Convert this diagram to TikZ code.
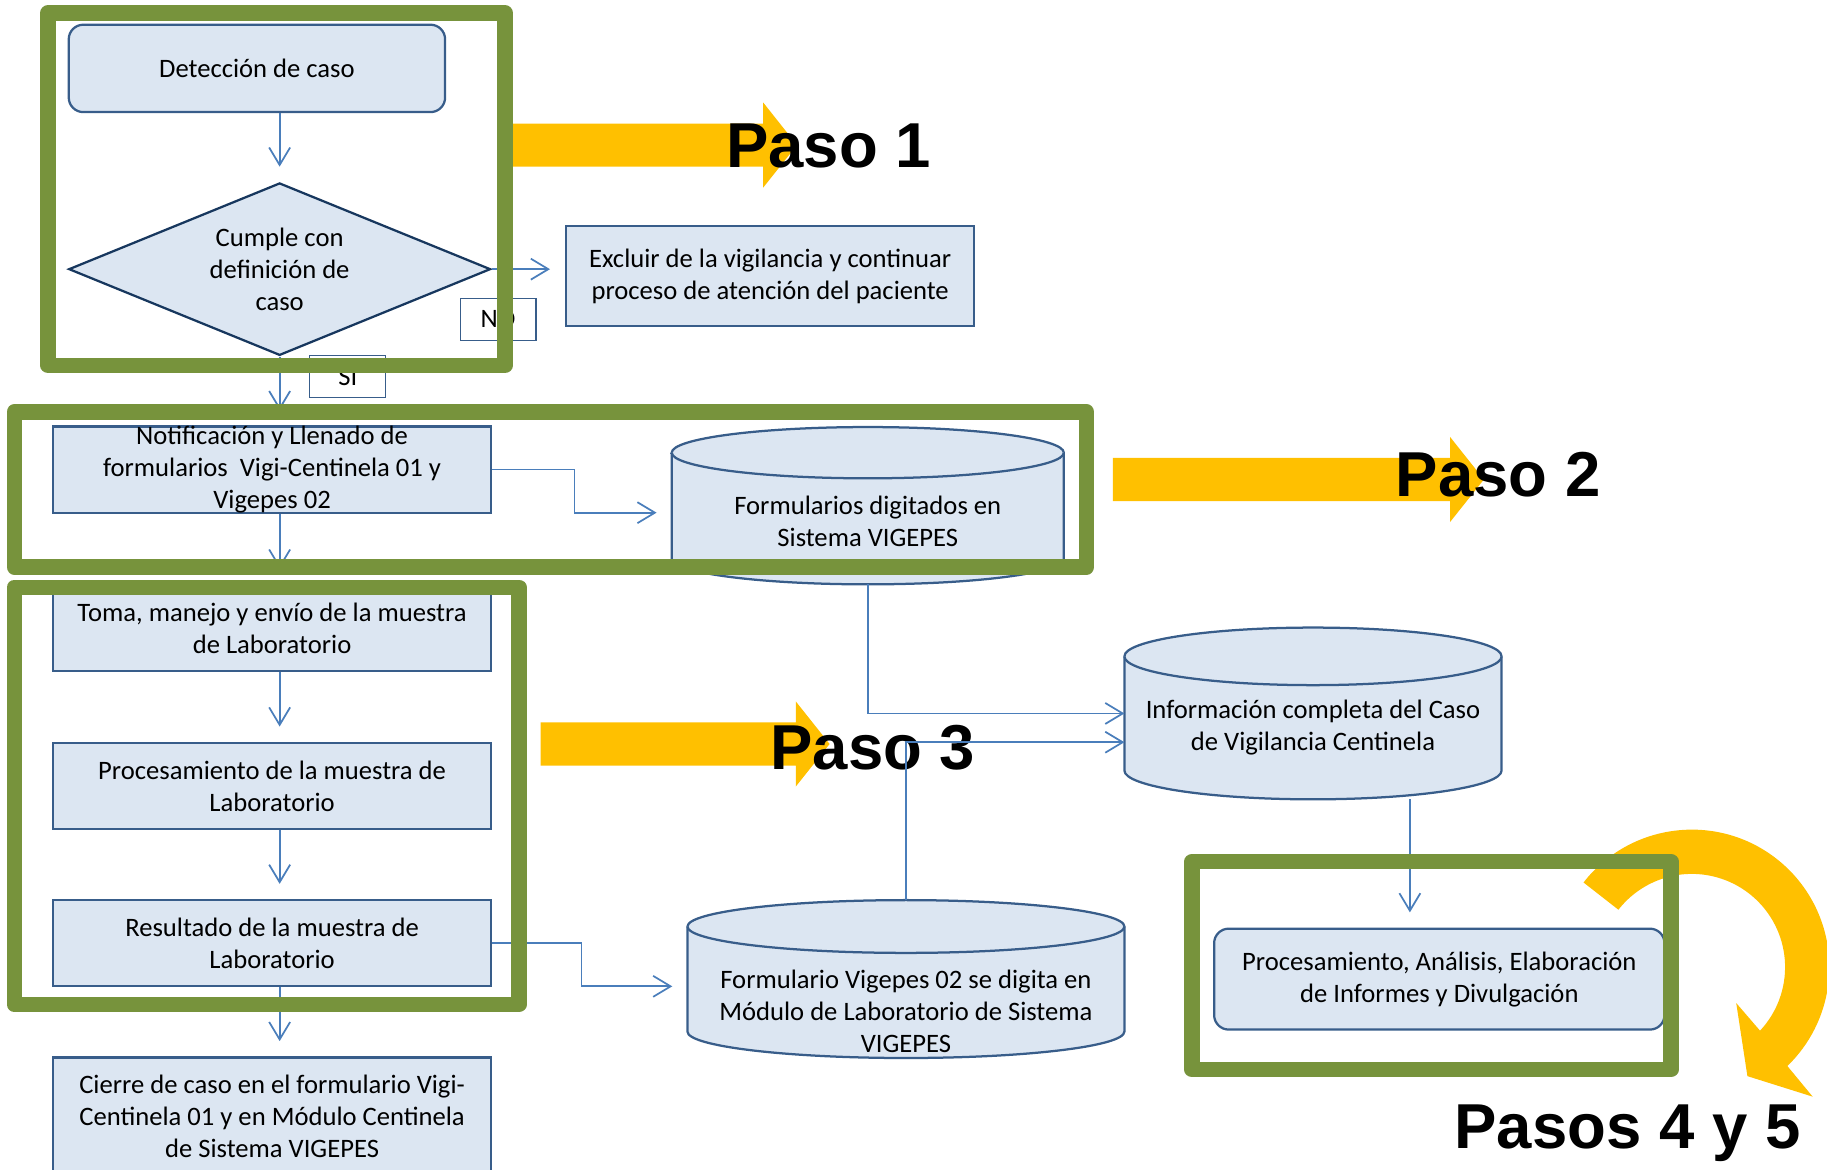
\documentclass[tikz,border=0pt]{standalone}
\usepackage{fontspec}
\setmainfont{Carlito}
\newfontfamily\pasofont{Liberation Sans}
\usetikzlibrary{shapes.geometric,arrows.meta}

\definecolor{verde}{HTML}{77933C}
\definecolor{amarillo}{HTML}{FFC000}
\definecolor{relleno}{HTML}{DCE6F2}
\definecolor{borde}{HTML}{385D8A}
\definecolor{flechaazul}{HTML}{4A7EBB}
\definecolor{rombo}{HTML}{17375E}

% flecha amarilla: x inicio, x base de la punta, y centro
\newcommand{\flecha}[3]{%
  \fill[amarillo] (#1,{#3+0.37}) -- (#2,{#3+0.37}) -- (#2,{#3+0.73}) -- ({#2+0.58},#3)
    -- (#2,{#3-0.73}) -- (#2,{#3-0.37}) -- (#1,{#3-0.37}) -- cycle;}

% cilindro alrededor de un nodo: nodo, semiancho, radio de la tapa
\newcommand{\dbcyl}[3]{%
  \filldraw[cyl] ([yshift=-#3]#1.north west) -- ([yshift=#3]#1.south west)
    arc[start angle=180, end angle=360, x radius=#2, y radius=#3]
    -- ([yshift=-#3]#1.north east)
    arc[start angle=0, end angle=180, x radius=#2, y radius=#3] -- cycle;
  \draw[cyl] ([yshift=-#3]#1.north east) arc[start angle=0, end angle=-180, x radius=#2, y radius=#3];}

\tikzset{
  caja/.style={rectangle, draw=borde, fill=relleno, line width=1.1pt, minimum width=7.52cm,
    minimum height=1.48cm, inner sep=0pt, align=center},
  redonda/.style={caja, rounded corners=0.25cm},
  cuerpo/.style={rectangle, inner sep=0pt, outer sep=0pt},
  cyl/.style={draw=borde, fill=relleno, line width=1.1pt},
  texto/.style={align=center, inner sep=0pt},
  conn/.style={draw=flechaazul, line width=0.85pt, -{Straight Barb[length=0.3cm,width=0.36cm]},
    shorten >=0.26cm},
  etiqueta/.style={rectangle, draw=borde, fill=white, line width=0.5pt, minimum width=1.3cm,
    minimum height=0.72cm, inner sep=0pt},
  marco/.style={draw=verde, line width=0.266cm, line join=round},
  paso/.style={font=\pasofont\bfseries\fontsize{31}{37}\selectfont, anchor=base west, inner sep=0pt}
}

\begin{document}
\begin{tikzpicture}[font=\fontsize{13}{15.7}\selectfont]
           \useasboundingbox (0,0) rectangle (31.36,-20.08);

           % Flechas amarillas
           \flecha{8.8}{13.1}{-2.49}
           \flecha{19.1}{24.89}{-8.23}
           \flecha{9.28}{13.66}{-12.77}
           \fill[amarillo, shift={(29.04,-16.6)}] (142:2.36) arc[start angle=142, end angle=-46, radius=2.36]
             -- (-47:3.04) -- (-63:2.10) -- (-39:0.98) -- (-43:1.6)
             arc[start angle=-43, end angle=142, radius=1.6] -- cycle;

           % Pasos
           \node[paso] (paso1) at (12.46,-2.87) {Paso 1};
           \node[paso] (paso2) at (23.95,-8.52) {Paso 2};
           \node[paso] (paso3) at (13.22,-13.2) {Paso 3};
           \node[paso] (pasos45) at (24.96,-19.71) {Pasos 4 y 5};

           % Paso 1
           \node[redonda, minimum width=6.46cm, minimum height=1.5cm] (det) at (4.41,-1.174) {Detección de caso};
           \node[diamond, draw=rombo, fill=relleno, line width=1.1pt, aspect=2.45, inner sep=0pt,
             minimum width=7.24cm, minimum height=2.96cm, align=center] (dec) at (4.8,-4.62)
             {Cumple con\\definición de\\caso};
           \node[caja, minimum width=7cm, minimum height=1.72cm] (excl) at (13.22,-4.74)
             {Excluir de la vigilancia y continuar\\proceso de atención del paciente};

           % Paso 2
           \node[caja] (notif) at (4.67,-8.06) {};
           \node[texto] (notift) at (notif.center)
             {Notificación y Llenado de\\formularios~ Vigi-Centinela 01 y\\Vigepes 02};
           \node[cuerpo, minimum width=6.73cm, minimum height=2.7cm] (forms) at (14.895,-8.68) {};
           \dbcyl{forms}{3.365cm}{0.44cm}
           \node[texto] (formst) at ([yshift=-0.27cm]forms.center) {Formularios digitados en\\Sistema VIGEPES};

           % Paso 3
           \node[caja] (toma) at (4.67,-10.78) {Toma, manejo y envío de la muestra\\de Laboratorio};
           \node[caja] (proc) at (4.67,-13.49) {Procesamiento de la muestra de\\Laboratorio};
           \node[caja] (res) at (4.67,-16.19) {Resultado de la muestra de\\Laboratorio};
           \node[caja, minimum height=2.02cm] (cierre) at (4.67,-19.16)
             {Cierre de caso en el formulario Vigi-\\Centinela 01 y en Módulo Centinela\\de Sistema VIGEPES};
           \node[cuerpo, minimum width=7.5cm, minimum height=2.71cm] (lab) at (15.55,-16.805) {};
           \dbcyl{lab}{3.75cm}{0.453cm}
           \node[texto] (labt) at ([yshift=-0.555cm]lab.center)
             {Formulario Vigepes 02 se digita en\\Módulo de Laboratorio de Sistema\\VIGEPES};

           % Pasos 4 y 5
           \node[cuerpo, minimum width=6.474cm, minimum height=2.948cm] (info) at (22.537,-12.246) {};
           \dbcyl{info}{3.237cm}{0.494cm}
           \node[texto] (infot) at ([yshift=-0.244cm]info.center)
             {Información completa del Caso\\de Vigilancia Centinela};
           \node[redonda, minimum width=7.73cm, minimum height=1.732cm] (anal) at (24.705,-16.806)
             {Procesamiento, Análisis, Elaboración\\de Informes y Divulgación};

           % Conectores
           \draw[conn] (det.south -| dec.north) -- (dec.north);
           \draw[conn] (dec.east) -- (dec.east -| excl.west);
           \draw[conn] (dec.south) -- (dec.south |- notif.north);
           \draw[conn] (notif.south -| dec.south) -- (toma.north -| dec.south);
           \draw[conn] (toma.south -| dec.south) -- (proc.north -| dec.south);
           \draw[conn] (proc.south -| dec.south) -- (res.north -| dec.south);
           \draw[conn] (res.south -| dec.south) -- (cierre.north -| dec.south);
           \draw[conn] (notif.east) -- ++(1.41,0) |- ([yshift=-0.12cm]forms.west);
           \draw[conn] (res.east) -- ++(1.53,0) |- ([yshift=-0.125cm]lab.west);
           \draw[conn, shorten >=0pt] (forms.south) |- (info.west);
           \draw[conn, shorten >=0pt] (lab.north) |- ([yshift=-0.494cm]info.west);
           \draw[conn] ([xshift=1.663cm]info.south) -- ([xshift=1.663cm]info.south |- anal.north);

           % Etiquetas NO y SI
           \node[etiqueta] (no) at (8.55,-5.48) {NO};
           \node[etiqueta] (si) at (5.97,-6.47) {SI};

           % Marcos verdes
           \draw[marco] (0.825,-0.224) rectangle (8.67,-6.27);
           \draw[marco] (0.245,-7.07) rectangle (18.65,-9.73);
           \draw[marco] (0.245,-10.08) rectangle (8.91,-17.24);
           \draw[marco] (20.46,-14.79) rectangle (28.68,-18.36);
         \end{tikzpicture}
\end{document}
